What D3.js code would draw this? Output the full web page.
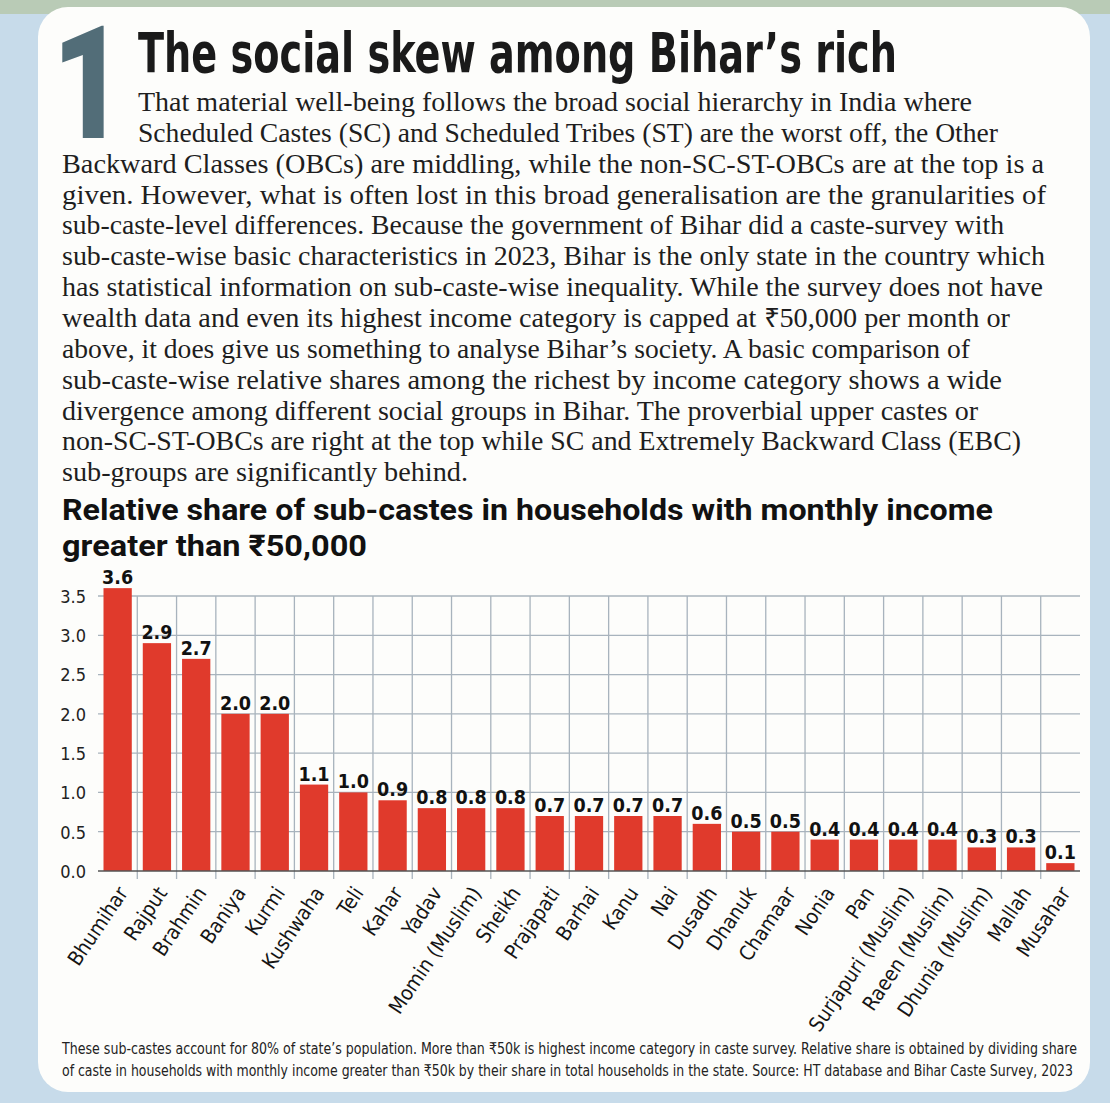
<!DOCTYPE html>
<html><head><meta charset="utf-8">
<script src="https://cdn.jsdelivr.net/npm/d3@7"></script>
<style>
html,body{margin:0;padding:0;background:#c7dbea;}
svg{display:block;}
</style></head>
<body>
<svg id="chart" width="1110" height="1103"></svg>
<script>
const categories = ["Bhumihar","Rajput","Brahmin","Baniya","Kurmi","Kushwaha","Teli","Kahar","Yadav","Momin (Muslim)","Sheikh","Prajapati","Barhai","Kanu","Nai","Dusadh","Dhanuk","Chamaar","Nonia","Pan","Surjapuri (Muslim)","Raeen (Muslim)","Dhunia (Muslim)","Mallah","Musahar"];
const values = [3.6,2.9,2.7,2.0,2.0,1.1,1.0,0.9,0.8,0.8,0.8,0.7,0.7,0.7,0.7,0.6,0.5,0.5,0.4,0.4,0.4,0.4,0.3,0.3,0.1];
const yTicks = [0,0.5,1.0,1.5,2.0,2.5,3.0,3.5];

const title = "The social skew among Bihar\u2019s rich";
const bodyLines = [
 "That material well-being follows the broad social hierarchy in India where",
 "Scheduled Castes (SC) and Scheduled Tribes (ST) are the worst off, the Other",
 "Backward Classes (OBCs) are middling, while the non-SC-ST-OBCs are at the top is a",
 "given. However, what is often lost in this broad generalisation are the granularities of",
 "sub-caste-level differences. Because the government of Bihar did a caste-survey with",
 "sub-caste-wise basic characteristics in 2023, Bihar is the only state in the country which",
 "has statistical information on sub-caste-wise inequality. While the survey does not have",
 "wealth data and even its highest income category is capped at \u20b950,000 per month or",
 "above, it does give us something to analyse Bihar\u2019s society. A basic comparison of",
 "sub-caste-wise relative shares among the richest by income category shows a wide",
 "divergence among different social groups in Bihar. The proverbial upper castes or",
 "non-SC-ST-OBCs are right at the top while SC and Extremely Backward Class (EBC)",
 "sub-groups are significantly behind."
];
const chartTitleLines = ["Relative share of sub-castes in households with monthly income","greater than \u20b950,000"];
const footLines = [
 "These sub-castes account for 80% of state\u2019s population. More than \u20b950k is highest income category in caste survey. Relative share is obtained by dividing share",
 "of caste in households with monthly income greater than \u20b950k by their share in total households in the state. Source: HT database and Bihar Caste Survey, 2023"
];

const svg = d3.select("#chart");
const NARROW = "'DejaVu Sans Condensed','DejaVu Sans',sans-serif";

svg.append("rect").attr("x",0).attr("y",0).attr("width",1110).attr("height",1103).attr("fill","#c7dbea");
svg.append("rect").attr("x",0).attr("y",0).attr("width",1110).attr("height",14).attr("fill","#b9cbb6");
svg.append("rect").attr("x",38).attr("y",7).attr("width",1052).attr("height",1085).attr("rx",30).attr("fill","#fdfdfb");

svg.append("text").attr("transform","translate(52,138) scale(0.8,1)")
  .attr("font-family","Roboto,sans-serif").attr("font-weight",900)
  .attr("font-size",158).attr("fill","#526d78").text("1");

function fitText(sel, target){
  sel.each(function(){
    this.setAttribute("textLength", target);
    this.setAttribute("lengthAdjust","spacingAndGlyphs");
  });
}

svg.append("text").attr("x",138).attr("y",72).attr("font-family",NARROW).attr("font-weight","bold")
  .attr("font-size",55).attr("fill","#1a1a1a").text(title).call(fitText, 759);

const bodyRight = [972,998,1044,1046,1004,1045,1043,1010,970,1002,978,1021,468];
bodyLines.forEach((l,i)=>{
  const x = i<2 ? 138 : 62;
  svg.append("text").attr("x",x).attr("y",111+i*30.85).attr("font-family","'Liberation Serif','Times New Roman',serif")
    .attr("font-size",26.5).attr("fill","#1e1e1e").text(l).call(fitText, bodyRight[i]-x);
});

const ctRight = [993,367];
chartTitleLines.forEach((l,i)=>{
  svg.append("text").attr("x",62).attr("y",520+i*35.5).attr("font-family","Roboto,'Open Sans',sans-serif")
    .attr("font-weight","bold").attr("font-size",30).attr("fill","#111").text(l).call(fitText, ctRight[i]-62);
});

const x = d3.scaleBand().domain(categories).range([98,1080]).paddingInner(0.28).paddingOuter(0.14);
const y = d3.scaleLinear().domain([0,3.5]).range([871,596]);

const g = svg.append("g");
g.selectAll("line.h").data(yTicks.slice(1)).join("line")
  .attr("x1",98).attr("x2",1080).attr("y1",d=>y(d)).attr("y2",d=>y(d))
  .attr("stroke","#a8b3bd").attr("stroke-width",1.3);
g.selectAll("line.v").data(categories.slice(1)).join("line")
  .attr("x1",d=>x(d)-x.step()*x.paddingInner()/2).attr("x2",d=>x(d)-x.step()*x.paddingInner()/2)
  .attr("y1",y(3.5)).attr("y2",879)
  .attr("stroke","#a8b3bd").attr("stroke-width",1.3);

g.selectAll("rect.bar").data(values).join("rect")
  .attr("x",(d,i)=>x(categories[i])).attr("width",x.bandwidth())
  .attr("y",d=>y(d)).attr("height",d=>y(0)-y(d)).attr("fill","#e03a2c");

g.append("line").attr("x1",98).attr("x2",1080).attr("y1",y(0)).attr("y2",y(0)).attr("stroke","#555").attr("stroke-width",1.5);

const yAxis = d3.axisLeft(y).tickValues(yTicks).tickFormat(d3.format(".1f")).tickSize(0).tickPadding(0);
const ya = svg.append("g").attr("transform","translate(86,0)").call(yAxis);
ya.select(".domain").remove();
ya.selectAll("text").attr("font-family",NARROW).attr("font-size",18).attr("fill","#222").attr("dy","0.35em");

g.selectAll("text.val").data(values).join("text")
  .attr("x",(d,i)=>x(categories[i])+x.bandwidth()/2).attr("y",d=>y(d)-4)
  .attr("text-anchor","middle").attr("font-family",NARROW).attr("font-weight","bold")
  .attr("font-size",19.5).attr("fill","#111").text(d=>d3.format(".1f")(d));

const xAxis = d3.axisBottom(x).tickSize(0).tickPadding(0);
const xa = svg.append("g").attr("transform",`translate(0,${y(0)})`).call(xAxis);
xa.select(".domain").remove();
xa.selectAll(".tick text")
  .attr("font-family",NARROW).attr("font-size",20.5).attr("fill","#151515")
  .attr("text-anchor","end").attr("y",0).attr("dy",0)
  .attr("transform","translate(11,22) rotate(-56)");

const footRight = [1077,1073];
footLines.forEach((l,i)=>{
  svg.append("text").attr("x",62).attr("y",1054+i*22).attr("font-family",NARROW)
    .attr("font-size",16).attr("fill","#222").text(l).call(fitText, footRight[i]-62);
});
</script>
</body></html>
